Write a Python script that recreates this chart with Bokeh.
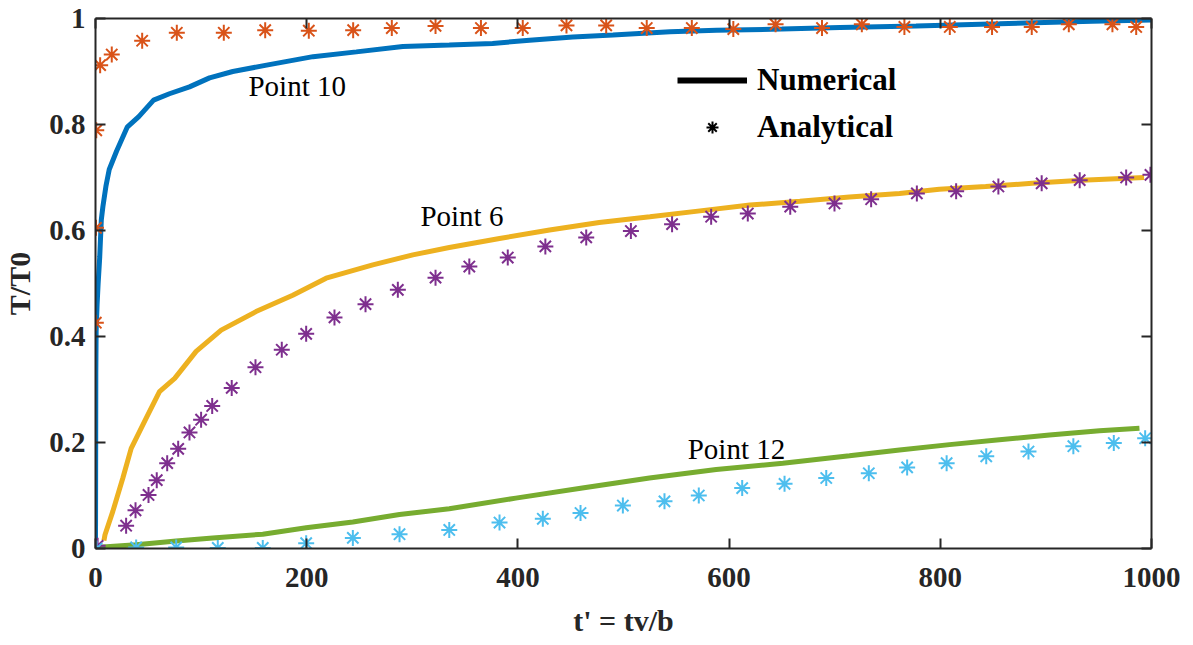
from bokeh.plotting import figure
from bokeh.models import (Range1d, LinearAxis, FixedTicker, Legend, LegendItem, Label,
                          CustomJSTickFormatter)
from bokeh.embed import file_html
from bokeh.resources import INLINE

# ---- data ----
blue_t = [0, 0.3, 0.6, 1.5, 2.5, 4, 5.5, 7, 10, 13, 20, 30, 41, 55, 70, 89, 108, 130, 162, 206, 247,
          291, 335, 376, 411, 452, 490, 544, 588, 650, 705, 777, 856, 944, 1000]
blue_T = [0, 0.33, 0.41, 0.46, 0.50, 0.55, 0.62, 0.645, 0.685, 0.715, 0.75, 0.795, 0.815, 0.846, 0.858,
          0.871, 0.888, 0.900, 0.912, 0.928, 0.937, 0.947, 0.950, 0.953, 0.959, 0.965, 0.969, 0.975,
          0.978, 0.980, 0.983, 0.986, 0.990, 0.995, 0.997]

yellow_t = [8, 9, 16.4, 25.9, 33.8, 48, 60.6, 75, 95.3, 119, 152, 186.8, 218.4, 262.6, 300.5, 335,
            382.6, 430, 477, 525, 572.4, 619.7, 667, 714, 761.4, 799, 843, 887, 934, 993]
yellow_T = [0.015, 0.026, 0.07, 0.133, 0.189, 0.246, 0.296, 0.321, 0.372, 0.412, 0.447, 0.478, 0.51,
            0.535, 0.554, 0.568, 0.585, 0.601, 0.615, 0.626, 0.637, 0.648, 0.655, 0.663, 0.670, 0.678,
            0.683, 0.689, 0.695, 0.700]

green_t = [0, 38.5, 76.4, 111, 158.4, 199.5, 243.7, 287.9, 335, 398, 461, 524.6, 587.8, 650.9, 714,
           761.4, 808.7, 856, 903.4, 950.8, 988.6]
green_T = [0.002, 0.007, 0.014, 0.02, 0.027, 0.039, 0.05, 0.064, 0.075, 0.095, 0.114, 0.133, 0.149,
           0.161, 0.175, 0.186, 0.196, 0.205, 0.214, 0.222, 0.227]

orange_t = [0, 0.3, 0.5, 0.7, 4.4, 15.4, 44.2, 77, 121.5, 160.7, 202, 244, 280.6, 322, 365, 404.6, 446,
            483.6, 522, 564.7, 604, 644, 688, 725.7, 766, 809, 849, 886.6, 921.7, 963, 985.5]
orange_T = [0, 0.426, 0.605, 0.789, 0.912, 0.932, 0.958, 0.973, 0.973, 0.978, 0.977, 0.978, 0.982,
            0.986, 0.982, 0.982, 0.987, 0.987, 0.982, 0.982, 0.980, 0.989, 0.982, 0.989, 0.984, 0.984,
            0.984, 0.984, 0.989, 0.989, 0.984]

purple_t = [2, 29, 37.9, 50.2, 58, 67.9, 78.3, 89, 100, 110.5, 129, 151.5, 176.4, 199.5, 226.3, 255.7,
            286.3, 322, 354, 390.4, 426, 464.7, 507, 546, 583, 617.7, 657.9, 699.8, 734.5, 777.8, 815,
            855, 896, 932, 976, 999]
purple_T = [0.005, 0.043, 0.072, 0.101, 0.129, 0.161, 0.188, 0.219, 0.243, 0.269, 0.303, 0.342, 0.375,
            0.405, 0.436, 0.461, 0.488, 0.511, 0.532, 0.549, 0.570, 0.587, 0.599, 0.612, 0.626, 0.632,
            0.645, 0.651, 0.659, 0.670, 0.674, 0.683, 0.689, 0.695, 0.700, 0.705]

lblue_t = [1, 38.5, 76.4, 115.8, 158.4, 199.5, 243.7, 287.9, 335, 382.6, 423.6, 459.3, 499.4, 538.8,
           571.3, 612.4, 652.5, 692, 732.3, 768.6, 806, 843.5, 883.5, 926, 964.3, 994]
lblue_T = [0, 0.002, 0.002, 0.001, 0.001, 0.010, 0.020, 0.027, 0.035, 0.049, 0.056, 0.067, 0.081,
           0.089, 0.100, 0.114, 0.122, 0.133, 0.142, 0.153, 0.161, 0.174, 0.183, 0.193, 0.199, 0.208]

x_ticks = [0, 200, 400, 600, 800, 1000]
y_ticks = [0, 0.2, 0.4, 0.6, 0.8, 1]
y_tick_labels = ["0", "0.2", "0.4", "0.6", "0.8", "1"]

point_labels = ["Point 10", "Point 6", "Point 12"]
point_label_t = [191, 347, 607]
point_label_T = [0.872, 0.627, 0.188]

legend_labels = ["Numerical", "Analytical"]

# ---- figure ----
FONT = "Liberation Serif"
AX = "#262626"

p = figure(frame_width=1056, frame_height=530, output_backend="svg", toolbar_location=None,
           x_range=Range1d(0, 1000), y_range=Range1d(0, 1),
           min_border_left=92, min_border_top=18, min_border_right=29, min_border_bottom=81,
           background_fill_color="white", border_fill_color="white")
p.grid.visible = False
p.outline_line_color = None

def style_axis(ax):
    ax.axis_line_color = AX
    ax.axis_line_width = 2
    ax.major_tick_line_color = AX
    ax.major_tick_line_width = 2
    ax.major_tick_in = 10
    ax.major_tick_out = 0
    ax.minor_tick_line_color = None
    ax.major_label_text_font = FONT
    ax.major_label_text_font_style = "bold"
    ax.major_label_text_color = AX
    ax.major_label_text_font_size = "29px"

xa = p.xaxis[0]
ya = p.yaxis[0]
xa.ticker = FixedTicker(ticks=x_ticks)
ya.ticker = FixedTicker(ticks=y_ticks)
ya.major_label_overrides = {v: s for v, s in zip(y_ticks, y_tick_labels)}
style_axis(xa)
style_axis(ya)
xa.major_label_standoff = 19
ya.major_label_standoff = 10
xa.axis_label = "t' = tv/b"
ya.axis_label = "T/T0"
for ax in (xa, ya):
    ax.axis_label_text_font = FONT
    ax.axis_label_text_font_style = "bold"
    ax.axis_label_text_font_size = "30px"
    ax.axis_label_text_color = AX
xa.axis_label_standoff = 14
ya.axis_label_standoff = 10

blank = CustomJSTickFormatter(code="return ''")
top = LinearAxis(ticker=FixedTicker(ticks=x_ticks), formatter=blank)
right = LinearAxis(ticker=FixedTicker(ticks=y_ticks), formatter=blank)
style_axis(top)
style_axis(right)
top.major_label_standoff = 0
right.major_label_standoff = 0
p.add_layout(top, "above")
p.add_layout(right, "right")

# numerical lines
p.line(blue_t, blue_T, line_color="#0072BD", line_width=5)
p.line(yellow_t, yellow_T, line_color="#EDB120", line_width=5)
p.line(green_t, green_T, line_color="#77AC30", line_width=5)

# analytical markers
p.scatter(orange_t, orange_T, marker="asterisk", size=16, line_color="#D95319", line_width=2)
p.scatter(purple_t, purple_T, marker="asterisk", size=16, line_color="#7E2F8E", line_width=2)
p.scatter(lblue_t, lblue_T, marker="asterisk", size=16, line_color="#4DBEEE", line_width=2)

for txt, tx, ty in zip(point_labels, point_label_t, point_label_T):
    p.add_layout(Label(x=tx, y=ty, text=txt, text_font=FONT, text_font_size="29px",
                       text_color="black", text_align="center", text_baseline="middle"))

# legend (proxy glyphs with no visible data inside the frame)
nan = float("nan")
r_num = p.line([nan], [nan], line_color="black", line_width=6)
r_ana = p.scatter([nan], [nan], marker="asterisk", size=10, line_color="black", line_width=2)
leg = Legend(items=[LegendItem(label=legend_labels[0], renderers=[r_num]),
                    LegendItem(label=legend_labels[1], renderers=[r_ana])],
             location=(582, 403), glyph_width=70, glyph_height=30, label_height=30,
             spacing=11, padding=0, label_standoff=10, border_line_color=None,
             background_fill_alpha=0, label_text_font=FONT, label_text_font_style="bold",
             label_text_font_size="31px", label_text_color="black")
p.add_layout(leg, "center")

open("out.html", "w").write(file_html(p, INLINE))
